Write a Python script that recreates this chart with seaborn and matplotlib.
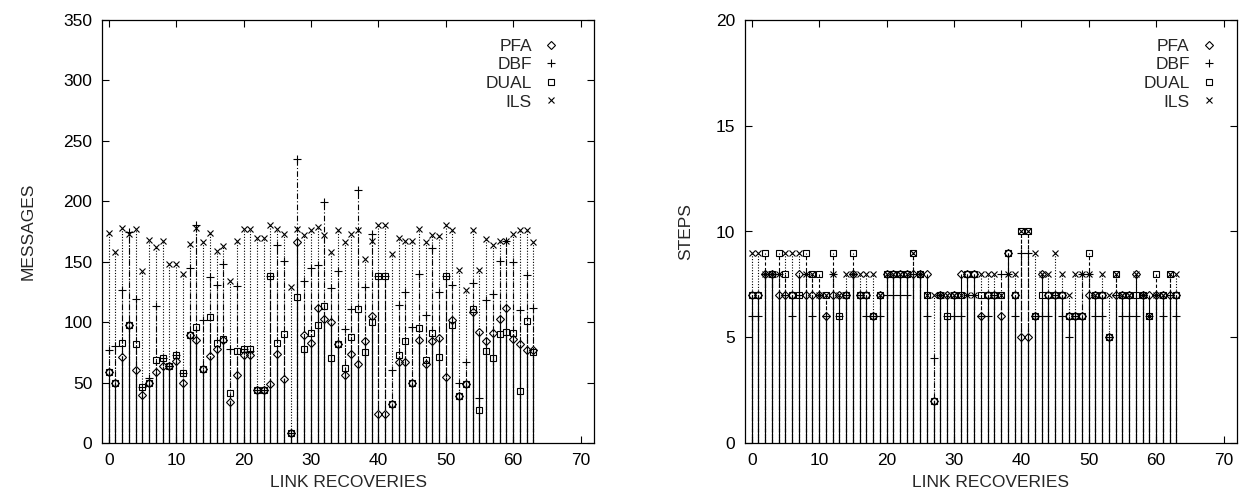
import numpy as np
import pandas as pd
import matplotlib
matplotlib.use("Agg")
import matplotlib.pyplot as plt
from matplotlib.lines import Line2D
import seaborn as sns

x_vals = list(range(64))
series_names = ["PFA", "DBF", "DUAL", "ILS"]

msg_pfa = [59, 50, 71, 98, 60, 40, 50, 59, 64, 64, 68, 50, 89, 85, 61, 72,
           78, 85, 34, 56, 73, 73, 44, 44, 49, 74, 53, 8, 166, 89, 83, 112,
           103, 100, 82, 56, 74, 65, 84, 105, 24, 24, 32, 67, 67, 50, 85, 65,
           84, 87, 55, 102, 39, 49, 108, 92, 84, 91, 103, 112, 86, 82, 77, 77]
msg_dbf = [77, 80, 127, 175, 119, 46, 54, 113, 70, 64, 73, 58, 145, 180, 102, 137,
           131, 148, 78, 130, 78, 76, 44, 44, 138, 164, 151, 8, 235, 134, 145, 147,
           199, 128, 142, 94, 111, 209, 129, 173, 138, 138, 60, 114, 125, 96, 140, 106,
           161, 125, 138, 131, 50, 67, 132, 37, 118, 123, 151, 167, 150, 110, 139, 112]
msg_dual = [59, 50, 83, 98, 82, 46, 50, 69, 70, 64, 73, 58, 89, 96, 61, 104,
            83, 86, 41, 76, 78, 78, 44, 44, 138, 83, 90, 8, 121, 78, 91, 98,
            113, 70, 82, 62, 88, 111, 75, 100, 138, 138, 32, 73, 84, 50, 95, 69,
            91, 71, 138, 98, 39, 49, 111, 27, 76, 70, 90, 92, 91, 43, 101, 75]
msg_ils = [174, 158, 178, 173, 177, 142, 168, 162, 167, 148, 148, 140, 165, 178, 166, 174,
           159, 163, 134, 167, 177, 177, 170, 170, 180, 177, 173, 129, 177, 172, 176, 179,
           172, 158, 176, 166, 173, 176, 152, 167, 180, 180, 156, 170, 167, 167, 177, 166,
           172, 171, 180, 176, 143, 127, 176, 143, 169, 164, 167, 167, 173, 176, 176, 166]

stp_pfa = [7, 7, 8, 8, 7, 7, 7, 8, 7, 7, 7, 6, 7, 7, 7, 8,
           7, 7, 6, 7, 8, 8, 8, 8, 8, 8, 8, 2, 7, 7, 7, 8,
           8, 8, 6, 7, 7, 6, 9, 7, 5, 5, 6, 8, 7, 7, 7, 6,
           6, 6, 7, 7, 7, 5, 7, 7, 7, 8, 7, 7, 7, 7, 7, 7]
stp_dbf = [6, 6, 8, 8, 8, 7, 6, 7, 8, 6, 7, 6, 8, 6, 7, 8,
           7, 6, 6, 6, 7, 7, 7, 7, 8, 8, 6, 4, 7, 6, 6, 6,
           7, 7, 6, 6, 7, 8, 8, 6, 9, 9, 6, 6, 6, 7, 6, 5,
           6, 8, 8, 6, 6, 5, 7, 6, 6, 6, 7, 6, 7, 6, 7, 6]
stp_dual = [7, 7, 9, 8, 9, 8, 7, 7, 9, 8, 8, 7, 9, 6, 7, 9,
            7, 7, 6, 7, 8, 8, 8, 8, 9, 8, 7, 2, 7, 6, 7, 7,
            8, 8, 7, 7, 7, 7, 9, 7, 10, 10, 6, 7, 7, 7, 7, 6,
            6, 6, 9, 7, 7, 5, 8, 7, 7, 7, 7, 6, 8, 7, 8, 7]
stp_ils = [9, 9, 8, 8, 8, 9, 9, 9, 8, 8, 7, 7, 8, 7, 8, 8,
           8, 8, 8, 7, 8, 8, 8, 8, 9, 8, 7, 7, 7, 7, 7, 7,
           7, 7, 8, 8, 8, 7, 8, 8, 10, 10, 9, 8, 8, 9, 8, 7,
           8, 8, 8, 7, 8, 7, 8, 7, 7, 8, 7, 6, 7, 7, 8, 8]

x_ticks = [0, 10, 20, 30, 40, 50, 60, 70]
msg_yticks = [0, 50, 100, 150, 200, 250, 300, 350]
stp_yticks = [0, 5, 10, 15, 20]

sns.set_theme(style="ticks")
plt.rcParams["font.family"] = ["Liberation Sans", "DejaVu Sans"]

styles = {
    "PFA": dict(ls="-", marker="D", ms=3.6),
    "DBF": dict(ls=(0, (5, 2, 1, 2)), marker="+", ms=6.0),
    "DUAL": dict(ls=(0, (3, 2)), marker="s", ms=4.6),
    "ILS": dict(ls=(0, (1, 1.5)), marker="x", ms=4.6),
}
draw_order = ["ILS", "DBF", "DUAL", "PFA"]

fig = plt.figure(figsize=(12.4, 4.94), dpi=100)
ax1 = fig.add_axes([102 / 1240, 51 / 494, 492 / 1240, 423 / 494])
ax2 = fig.add_axes([745 / 1240, 51 / 494, 492 / 1240, 423 / 494])


def draw(ax, data, ymax, yticks, ylabel, ylabelpad, legend_x):
    for name in draw_order:
        st = styles[name]
        ax.vlines(x_vals, 0, data[name], colors="black", linestyles=[st["ls"]], linewidth=0.8)
    for name in draw_order:
        st = styles[name]
        df = pd.DataFrame({"x": x_vals, "y": data[name]})
        sns.lineplot(data=df, x="x", y="y", ax=ax, linestyle="", marker=st["marker"],
                     markersize=st["ms"], markerfacecolor="none", markeredgecolor="black",
                     markeredgewidth=0.8, color="black", sort=False, errorbar=None, zorder=3)
    ax.set_xlim(-1, 72)
    ax.set_ylim(0, ymax)
    ax.set_xticks(x_ticks)
    ax.set_yticks(yticks)
    ax.tick_params(direction="in", top=True, right=True, length=5, width=0.8,
                   labelsize=12.5, pad=7, colors="black")
    for sp in ax.spines.values():
        sp.set_visible(True)
        sp.set_linewidth(0.9)
        sp.set_color("black")
    ax.set_xlabel("LINK RECOVERIES", fontsize=12.5, labelpad=5)
    ax.set_ylabel(ylabel, fontsize=12.5, labelpad=ylabelpad)
    handles = [Line2D([], [], linestyle="", marker=styles[n]["marker"], markersize=styles[n]["ms"],
                      markerfacecolor="none", markeredgecolor="black", markeredgewidth=0.8,
                      color="black") for n in series_names]
    ax.legend(handles, series_names, loc="upper right", bbox_to_anchor=(legend_x, 0.985),
              frameon=False, markerfirst=False, fontsize=12.5, handlelength=1.0,
              handletextpad=0.6, labelspacing=0.2, borderpad=0.2)


msg = {"PFA": msg_pfa, "DBF": msg_dbf, "DUAL": msg_dual, "ILS": msg_ils}
stp = {"PFA": stp_pfa, "DBF": stp_dbf, "DUAL": stp_dual, "ILS": stp_ils}
draw(ax1, msg, 350, msg_yticks, "MESSAGES", 20, 0.955)
draw(ax2, stp, 20, stp_yticks, "STEPS", 16, 0.985)

fig.savefig("out.png", dpi=100)
